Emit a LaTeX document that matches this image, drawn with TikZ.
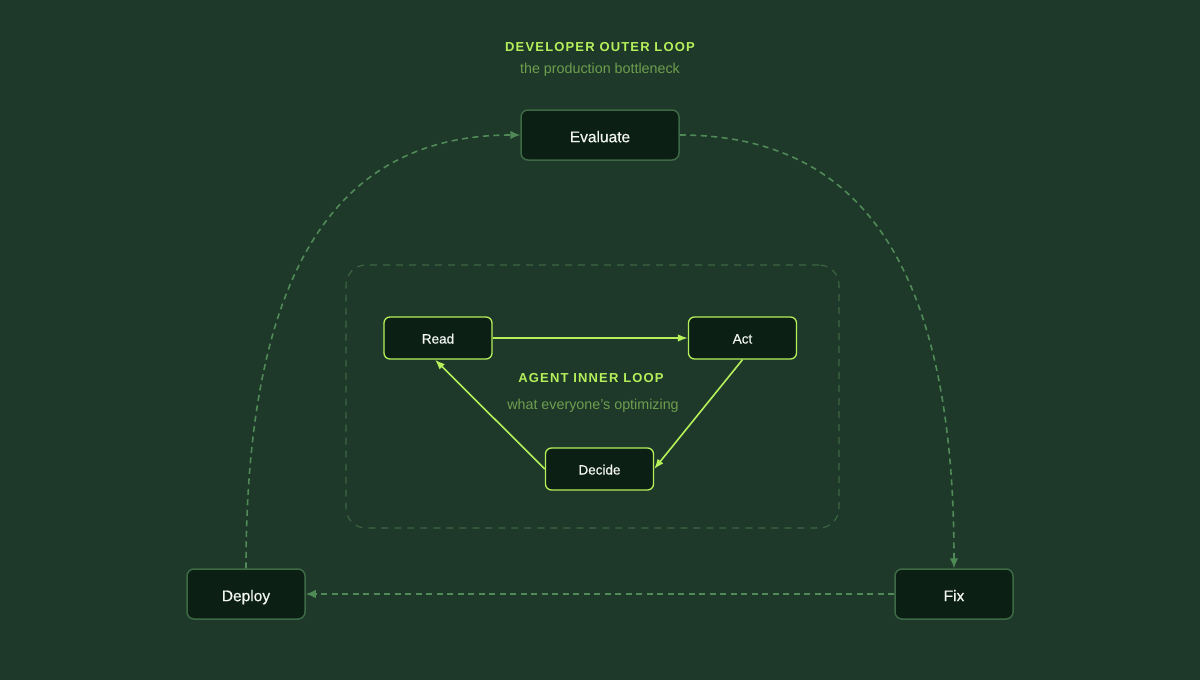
\documentclass[tikz,border=0pt]{standalone}
\usepackage{fontspec}
\setmainfont{Liberation Sans}
\newfontfamily\titlefont[LetterSpace=9]{Liberation Sans}
\newfontfamily\nodefont[FakeBold=0.5]{Liberation Sans}
\usetikzlibrary{arrows.meta}
\definecolor{bg}{HTML}{1E392A}
\definecolor{nodefill}{HTML}{0C1F15}
\definecolor{outerborder}{HTML}{3D6A44}
\definecolor{lime}{HTML}{B5F05A}
\definecolor{subtxt}{HTML}{6E9E4E}
\definecolor{dashcol}{HTML}{4F8A57}
\definecolor{boxdash}{HTML}{3C6743}
\definecolor{txt}{HTML}{F2F5F2}
\tikzset{
  outerbox/.style={draw=outerborder, line width=1.5pt, fill=nodefill, rounded corners=7pt,
    minimum width=118pt, minimum height=50pt, text=txt, font=\nodefont\fontsize{15.5}{18}\selectfont,
    inner sep=0pt, text height=14.4pt, text depth=0pt},
  innerbox/.style={draw=lime, line width=1.3pt, fill=nodefill, rounded corners=6pt,
    minimum width=108pt, minimum height=42pt, text=txt, font=\nodefont\fontsize{13.5}{16}\selectfont,
    inner sep=0pt, text height=11pt, text depth=0pt},
  titletext/.style={text=lime, font=\titlefont\bfseries\fontsize{13}{16}\selectfont, inner sep=0pt},
  subtext/.style={text=subtxt, font=\fontsize{14.3}{17}\selectfont, inner sep=0pt},
  outerlink/.style={draw=dashcol, line width=1.6pt, dash pattern=on 6pt off 4.5pt,
    -{Latex[length=10pt,width=8.5pt]}},
  innerlink/.style={draw=lime, line width=1.6pt, -{Latex[length=10pt,width=7.5pt]}},
  innerframe/.style={draw=boxdash, line width=1.1pt, dash pattern=on 7pt off 6pt,
    rounded corners=20pt, inner sep=0pt}
}
\begin{document}
\begin{tikzpicture}[x=1pt, y=-1pt]
\fill[bg] (0,0) rectangle (1200,680);
\useasboundingbox (0,0) rectangle (1200,680);

\node[innerframe, minimum width=493pt, minimum height=263pt] (frame) at (592.5,396.5) {};

\node[titletext] (outertitle) at (600,47) {DEVELOPER OUTER LOOP};
\node[subtext] (outersub) at (600,70) {the production bottleneck};

\node[outerbox, minimum width=158pt] (eval) at (600,135) {Evaluate};
\node[outerbox] (deploy) at (246,594) {Deploy};
\node[outerbox] (fix) at (954,594) {Fix};

\node[innerbox] (read) at (438,338) {Read};
\node[innerbox] (act) at (742.5,338) {Act};
\node[innerbox] (decide) at (599.5,469) {Decide};

\node[titletext] (innertitle) at (591,378) {AGENT INNER LOOP};
\node[subtext] (innersub) at (593,406) {what everyone's optimizing};

\draw[outerlink] (deploy.north) .. controls (246,265) and (340,135) .. (eval.west);
\draw[outerlink] (eval.east) .. controls (860,135) and (954,265) .. (fix.north);
\draw[outerlink] (fix.west) -- (deploy.east);

\draw[innerlink] (read.east) -- (act.west);
\draw[innerlink] (act.south) -- (decide.east);
\draw[innerlink] (decide.west) -- ([xshift=-3pt]read.south);
\end{tikzpicture}
\end{document}
